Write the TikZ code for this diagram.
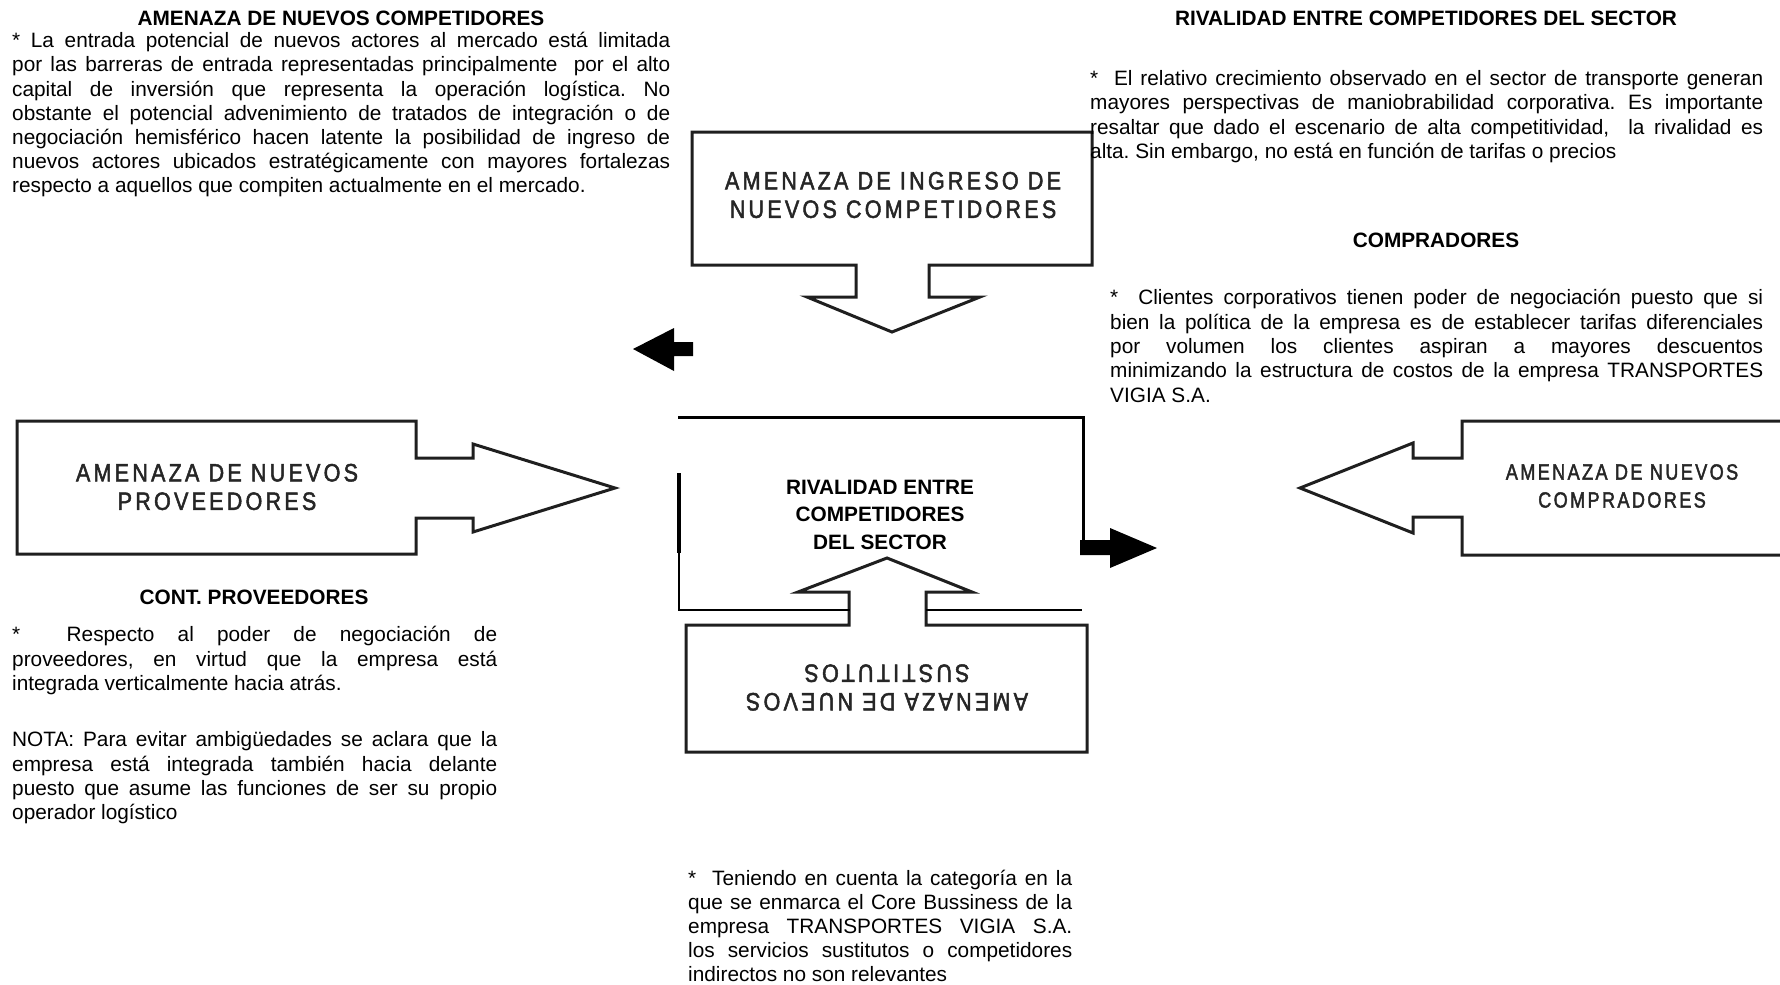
\documentclass[tikz,border=0pt]{standalone}
\usepackage{fontspec}
\setmainfont{Liberation Sans}
\newfontfamily\arrowfont[FakeStretch=0.86,LetterSpace=13,FakeBold=2]{Liberation Sans}
\newfontfamily\smallarrowfont[FakeStretch=0.82,LetterSpace=11,FakeBold=2]{Liberation Sans}
\frenchspacing

% one justified line of a paragraph, stretched to the given width
\newcommand\jline[2]{\makebox[#1][s]{#2}}

\begin{document}
\begin{tikzpicture}[x=1pt,y=-1pt,
  body/.style={inner sep=0pt, anchor=north west, align=left,
    font=\fontsize{20.8}{24.2}\selectfont},
  head/.style={inner sep=0pt, anchor=base, font=\fontsize{20.8}{24}\selectfont\bfseries},
  outline/.style={line width=3pt, draw=black!88, line join=miter},
  arrowtext/.style={inner sep=0pt, align=center, text=black!85,
    font={\arrowfont\fontsize{25}{28.5}\selectfont}},
  solidarrow/.style={fill=black, draw=none}]

\useasboundingbox (0,0) rectangle (1780,985);

% ---------- hollow arrows ----------
% threat of new entrants (points down)
\draw[outline] (692,132) -- (1092,132) -- (1092,265) -- (929,265) -- (929,297)
  -- (980,297) -- (892,332) -- (807,297) -- (856,297) -- (856,265) -- (692,265) -- cycle;
% suppliers (points right)
\draw[outline] (17,421) -- (416,421) -- (416,458) -- (473,458) -- (473,444)
  -- (615,488) -- (473,532) -- (473,518) -- (416,518) -- (416,554) -- (17,554) -- cycle;
% buyers (points left, box runs off the right edge)
\draw[outline] (1785,421) -- (1462,421) -- (1462,458) -- (1413,458) -- (1413,443)
  -- (1300,488) -- (1413,533) -- (1413,517) -- (1462,517) -- (1462,555) -- (1785,555);
% substitutes (points up)
\draw[outline] (686,625) -- (849,625) -- (849,592) -- (798,592) -- (887,558)
  -- (972,592) -- (926,592) -- (926,625) -- (1087,625) -- (1087,752) -- (686,752) -- cycle;

% ---------- central rivalry frame ----------
\draw[line width=3pt] (678,417) -- (1083,417) -- (1083,543);
\draw[line width=4pt] (679,473) -- (679,553);
\draw[line width=2.5pt] (679,553) -- (679,610) -- (850,610);
\draw[line width=2.5pt] (926,610) -- (1082,610);

% ---------- solid arrows ----------
\fill[solidarrow] (633,349) -- (674,328) -- (674,342) -- (693,342) -- (693,356)
  -- (674,356) -- (674,371) -- cycle;
\fill[solidarrow] (1080,540) -- (1110,540) -- (1110,528) -- (1157,548) -- (1110,568)
  -- (1110,555) -- (1080,555) -- cycle;

% ---------- labels inside the arrows ----------
\node[arrowtext] (ingreso) at (893,195) {AMENAZA DE INGRESO DE\\NUEVOS COMPETIDORES};
\node[arrowtext] (proveedores) at (217,487) {AMENAZA DE NUEVOS\\PROVEEDORES};
\node[arrowtext, font={\smallarrowfont\fontsize{22}{28}\selectfont}] (compradores) at (1622,486)
  {AMENAZA DE NUEVOS\\COMPRADORES};
\node[arrowtext, rotate=180] (sustitutos) at (887,687.5) {AMENAZA DE NUEVOS\\SUSTITUTOS};

\node[inner sep=0pt, align=center, font=\fontsize{20.8}{27.5}\selectfont\bfseries]
  (rivalidad) at (880,514.5) {RIVALIDAD ENTRE\\COMPETIDORES\\DEL SECTOR};

% ---------- headings ----------
\node[head] (h1) at (341,25.5) {AMENAZA DE NUEVOS COMPETIDORES};
\node[head] (h2) at (1426,25.5) {RIVALIDAD ENTRE COMPETIDORES DEL SECTOR};
\node[head] (h3) at (1436,247.5) {COMPRADORES};
\node[head] (h4) at (254,604) {CONT. PROVEEDORES};

% ---------- paragraphs ----------
\node[body] (p1) at (12,26.5) {\rule{0pt}{21pt}\jline{658pt}{* La entrada potencial de nuevos actores al mercado está limitada}\\
\jline{658pt}{por las barreras de entrada representadas principalmente\ \ por el alto}\\
\jline{658pt}{capital de inversión que representa la operación logística. No}\\
\jline{658pt}{obstante el potencial advenimiento de tratados de integración o de}\\
\jline{658pt}{negociación hemisférico hacen latente la posibilidad de ingreso de}\\
\jline{658pt}{nuevos actores ubicados estratégicamente con mayores fortalezas}\\
respecto a aquellos que compiten actualmente en el mercado.};

\node[body] (p2) at (1090,64.5) {\rule{0pt}{21pt}\jline{673pt}{*\ \ El relativo crecimiento observado en el sector de transporte generan}\\
\jline{673pt}{mayores perspectivas de maniobrabilidad corporativa. Es importante}\\
\jline{673pt}{resaltar que dado el escenario de alta competitividad,\ \ la rivalidad es}\\
alta. Sin embargo, no está en función de tarifas o precios};

\node[body, font=\fontsize{20.8}{24.4}\selectfont] (p3) at (1110,283.5) {\rule{0pt}{21pt}\jline{653pt}{*\ \ Clientes corporativos tienen poder de negociación puesto que si}\\
\jline{653pt}{bien la política de la empresa es de establecer tarifas diferenciales}\\
\jline{653pt}{por volumen los clientes aspiran a mayores descuentos}\\
\jline{653pt}{minimizando la estructura de costos de la empresa TRANSPORTES}\\
VIGIA S.A.};

\node[body, font=\fontsize{20.8}{24.3}\selectfont] (p4) at (12,620.5) {\rule{0pt}{21pt}\jline{485pt}{*\ \ Respecto al poder de negociación de}\\
\jline{485pt}{proveedores, en virtud que la empresa está}\\
integrada verticalmente hacia atrás.};

\node[body, font=\fontsize{20.8}{24.3}\selectfont] (p5) at (12,725.5) {\rule{0pt}{21pt}\jline{485pt}{NOTA: Para evitar ambigüedades se aclara que la}\\
\jline{485pt}{empresa está integrada también hacia delante}\\
\jline{485pt}{puesto que asume las funciones de ser su propio}\\
operador logístico};

\node[body, font=\fontsize{20.8}{24}\selectfont] (p6) at (688,864) {\rule{0pt}{21pt}\jline{384pt}{*\ \ Teniendo en cuenta la categoría en la}\\
\jline{384pt}{que se enmarca el Core Bussiness de la}\\
\jline{384pt}{empresa TRANSPORTES VIGIA S.A.}\\
\jline{384pt}{los servicios sustitutos o competidores}\\
indirectos no son relevantes};

\end{tikzpicture}
\end{document}
